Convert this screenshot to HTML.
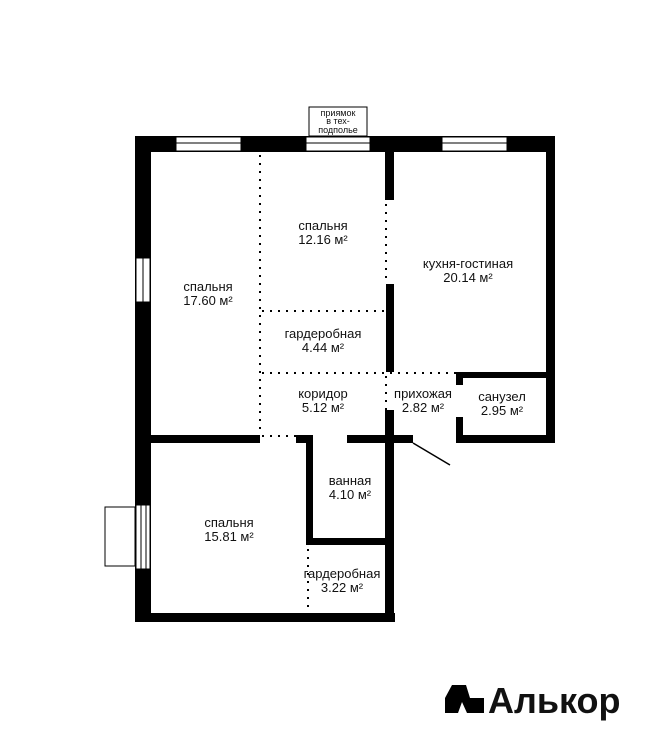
<!DOCTYPE html>
<html><head><meta charset="utf-8"><style>
body{margin:0;background:#fff;}
svg text{font-family:"Liberation Sans",sans-serif;font-size:13px;fill:#111;text-anchor:middle;}
</style></head><body>
<svg width="661" height="750" viewBox="0 0 661 750" xmlns="http://www.w3.org/2000/svg">
<g fill="#000">
<rect x="135" y="136" width="420" height="16"/>
<rect x="135" y="136" width="16" height="486"/>
<rect x="546" y="136" width="9" height="307"/>
<rect x="135" y="613" width="260" height="9"/>
<rect x="385" y="410" width="9" height="212"/>
<rect x="385" y="152" width="9" height="48"/>
<rect x="386" y="284" width="8" height="88"/>
<rect x="135" y="435" width="125" height="8"/>
<rect x="296" y="435" width="17" height="8"/>
<rect x="306" y="435" width="7" height="110"/>
<rect x="306" y="538" width="82" height="7"/>
<rect x="347" y="435" width="66" height="8"/>
<rect x="456" y="372" width="99" height="6"/>
<rect x="456" y="372" width="7" height="13"/>
<rect x="456" y="417" width="7" height="26"/>
<rect x="456" y="435" width="99" height="8"/>
</g>
<g fill="#fff" stroke="#000" stroke-width="1">
<rect x="176" y="137" width="65" height="14"/>
<rect x="306" y="137" width="64" height="14"/>
<rect x="442" y="137" width="65" height="14"/>
<rect x="136" y="258" width="14" height="44"/>
<rect x="136" y="505" width="14" height="64"/>
<rect x="105" y="507" width="30" height="59"/>
<rect x="309" y="107" width="58" height="29"/>
</g>
<g stroke="#000" stroke-width="1">
<line x1="176" y1="143" x2="241" y2="143"/>
<line x1="306" y1="143" x2="370" y2="143"/>
<line x1="442" y1="143" x2="507" y2="143"/>
<line x1="143" y1="258" x2="143" y2="302"/>
<line x1="141" y1="505" x2="141" y2="569"/>
<line x1="146" y1="505" x2="146" y2="569"/>
<line x1="413" y1="443" x2="450" y2="465" stroke-width="1.5"/>
</g>
<g stroke="#000" stroke-width="2" stroke-dasharray="2,6" fill="none">
<line x1="260" y1="155" x2="260" y2="435"/>
<line x1="386" y1="204" x2="386" y2="284"/>
<line x1="386" y1="376" x2="386" y2="410"/>
<line x1="262" y1="311" x2="386" y2="311"/>
<line x1="262" y1="373" x2="456" y2="373"/>
<line x1="262" y1="436" x2="296" y2="436"/>
<line x1="308" y1="549" x2="308" y2="613"/>
</g>
<text x="338" y="116" style="font-size:9px">приямок</text>
<text x="338" y="124" style="font-size:9px">в тех-</text>
<text x="338" y="133" style="font-size:9px">подполье</text>
<text x="208" y="291">спальня</text><text x="208" y="305">17.60 м²</text>
<text x="323" y="230">спальня</text><text x="323" y="244">12.16 м²</text>
<text x="468" y="268">кухня-гостиная</text><text x="468" y="282">20.14 м²</text>
<text x="323" y="338">гардеробная</text><text x="323" y="352">4.44 м²</text>
<text x="323" y="398">коридор</text><text x="323" y="412">5.12 м²</text>
<text x="423" y="398">прихожая</text><text x="423" y="412">2.82 м²</text>
<text x="502" y="401">санузел</text><text x="502" y="415">2.95 м²</text>
<text x="350" y="485">ванная</text><text x="350" y="499">4.10 м²</text>
<text x="229" y="527">спальня</text><text x="229" y="541">15.81 м²</text>
<text x="342" y="578">гардеробная</text><text x="342" y="592">3.22 м²</text>
<polygon points="452,685 466,685 470,698 484,698 484,713 467,713 462,702 458,713 445,713 445,698" fill="#000"/>
<text x="488" y="713" style="font-size:36px;font-weight:bold;text-anchor:start">Алькор</text>
</svg>
</body></html>
